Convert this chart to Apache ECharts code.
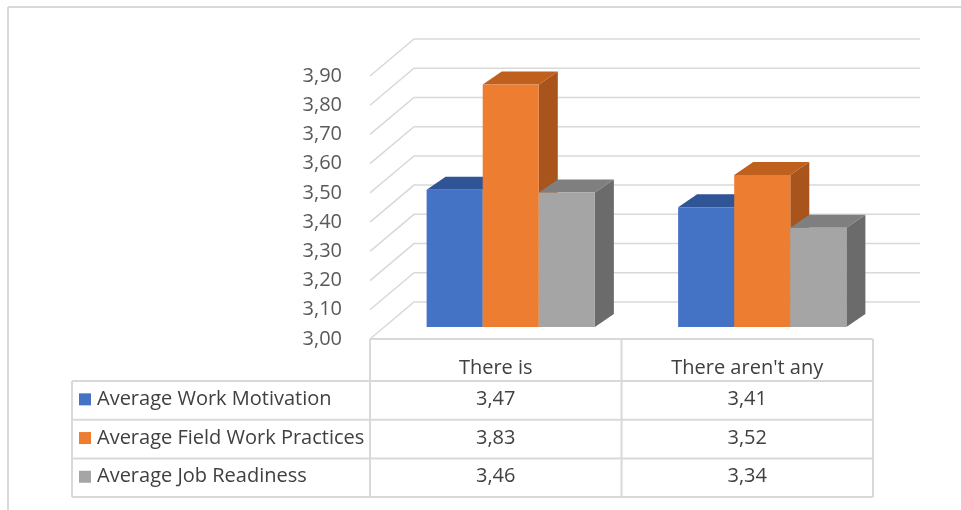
<!DOCTYPE html>
<html>
<head>
<meta charset="utf-8">
<script src="https://cdn.jsdelivr.net/npm/echarts@6/dist/echarts.min.js"></script>
<style>
  html, body { margin: 0; padding: 0; background: #ffffff; }
  #chart { width: 961px; height: 510px; }
</style>
</head>
<body>
<div id="chart"></div>
<script>
// Categories (table columns) and the three averages per category
const categories = ['There is', "There aren't any"];
const seriesNames = ['Average Work Motivation', 'Average Field Work Practices', 'Average Job Readiness'];
const workMotivation = [3.47, 3.41];
const fieldWorkPractices = [3.83, 3.52];
const jobReadiness = [3.46, 3.34];
const yTicks = [3.00, 3.10, 3.20, 3.30, 3.40, 3.50, 3.60, 3.70, 3.80, 3.90];

const seriesValues = [workMotivation, fieldWorkPractices, jobReadiness];
const frontColors = ['#4472C4', '#ED7D31', '#A5A5A5'];
const topColors = ['#2F5597', '#C0601E', '#7F7F7F'];
const sideColors = ['#2A4C8A', '#A9541C', '#6B6B6B'];

const FONT = "'Open Sans', 'Noto Sans', sans-serif";
const TEXT_SIZE = 20;
const fmt = v => v.toFixed(2).replace('.', ',');

// Plot area (front plane of the 3D box)
const GRID = { left: 370, right: 88, top: 76, bottom: 171 };
const WALL_DX = 44, WALL_DY = -37;     // depth of the side wall / floor
const BAR_SHIFT_X = 15, BAR_SHIFT_Y = -12; // bars sit a little behind the front edge
const BAR_DX = 19, BAR_DY = -13;       // bar depth
const BAR_FRAC = 0.223;                // bar width as a share of a category

const chart = echarts.init(document.getElementById('chart'), null, { renderer: 'canvas' });

function wallItem(params, api) {
  const cs = params.coordSys;
  const v = api.value(1);
  const y = api.coord([0, v])[1];
  const x0 = cs.x;
  const x1 = cs.x + cs.width + WALL_DX + 3;
  return {
    type: 'polyline',
    shape: { points: [[x0, y], [x0 + WALL_DX, y + WALL_DY], [x1, y + WALL_DY]] },
    style: { stroke: '#D9D9D9', lineWidth: 1.5, fill: null }
  };
}

function barRenderer(idx) {
  return function (params, api) {
    const cat = api.value(0);
    const v = api.value(1);
    const catW = api.size([1, 0])[0];
    const bw = catW * BAR_FRAC;
    const cx = api.coord([cat, v])[0] + BAR_SHIFT_X + (idx - 1) * bw;
    const x0 = cx - bw / 2, x1 = cx + bw / 2;
    const yt = api.coord([cat, v])[1] + BAR_SHIFT_Y;
    const yb = api.coord([cat, yTicks[0]])[1] + BAR_SHIFT_Y;
    return {
      type: 'group',
      children: [
        { type: 'polygon', shape: { points: [[x1, yt], [x1 + BAR_DX, yt + BAR_DY], [x1 + BAR_DX, yb + BAR_DY], [x1, yb]] },
          style: { fill: sideColors[idx] } },
        { type: 'polygon', shape: { points: [[x0, yt], [x1, yt], [x1 + BAR_DX, yt + BAR_DY], [x0 + BAR_DX, yt + BAR_DY]] },
          style: { fill: topColors[idx] } },
        { type: 'rect', shape: { x: x0, y: yt, width: bw, height: yb - yt },
          style: { fill: frontColors[idx] } }
      ]
    };
  };
}

// Data table under the plot
function buildTable() {
  const els = [];
  const line = (x1, y1, x2, y2) => els.push({ type: 'line', shape: { x1, y1, x2, y2 },
    style: { stroke: '#D9D9D9', lineWidth: 2 }, silent: true });
  const colLeft = GRID.left, colRight = 961 - GRID.right;
  const colW = (colRight - colLeft) / categories.length;
  const tableLeft = 72;
  const headTop = 339, headBottom = 381, rowH = 38.7;
  const tableBottom = headBottom + rowH * seriesNames.length;
  const font = TEXT_SIZE + 'px ' + FONT;

  line(colLeft, headTop, colRight, headTop);
  for (let r = 0; r <= seriesNames.length; r++) {
    const y = headBottom + rowH * r;
    line(tableLeft, y, colRight, y);
  }
  line(tableLeft, headBottom, tableLeft, tableBottom);
  for (let c = 0; c <= categories.length; c++) {
    const x = colLeft + colW * c;
    line(x, headTop, x, tableBottom);
  }
  categories.forEach((name, c) => {
    els.push({ type: 'text', x: colLeft + colW * (c + 0.5), y: 368,
      style: { text: name, font, fill: '#404040', align: 'center', verticalAlign: 'middle' } });
  });
  seriesNames.forEach((name, r) => {
    const yc = headBottom + rowH * (r + 0.5) - 1;
    els.push({ type: 'rect', shape: { x: 79, y: yc - 6, width: 12, height: 12 },
      style: { fill: frontColors[r] } });
    els.push({ type: 'text', x: 97, y: yc,
      style: { text: name, font, fill: '#404040', align: 'left', verticalAlign: 'middle' } });
    seriesValues[r].forEach((v, c) => {
      els.push({ type: 'text', x: colLeft + colW * (c + 0.5), y: yc,
        style: { text: fmt(v), font, fill: '#404040', align: 'center', verticalAlign: 'middle' } });
    });
  });
  // outer frame of the chart area
  els.push({ type: 'line', shape: { x1: 8, y1: 7, x2: 961, y2: 7 }, style: { stroke: '#D9D9D9', lineWidth: 2 } });
  els.push({ type: 'line', shape: { x1: 8, y1: 7, x2: 8, y2: 510 }, style: { stroke: '#D9D9D9', lineWidth: 2 } });
  return els;
}

const option = {
  animation: false,
  backgroundColor: '#ffffff',
  grid: GRID,
  xAxis: {
    type: 'category',
    data: categories,
    axisLine: { show: false },
    axisTick: { show: false },
    axisLabel: { show: false },
    splitLine: { show: false }
  },
  yAxis: {
    type: 'value',
    min: 3.0,
    max: 3.9,
    interval: 0.1,
    axisLine: { show: false },
    axisTick: { show: false },
    splitLine: { show: false },
    axisLabel: {
      formatter: v => fmt(v),
      color: '#595959',
      fontSize: TEXT_SIZE,
      fontFamily: FONT,
      margin: 28
    }
  },
  series: [
    {
      type: 'custom',
      name: 'walls',
      silent: true,
      z: 1,
      clip: false,
      renderItem: wallItem,
      data: yTicks.map(v => [0, v])
    }
  ].concat(seriesValues.map((vals, idx) => ({
    type: 'custom',
    name: seriesNames[idx],
    z: 2,
    clip: false,
    renderItem: barRenderer(idx),
    data: vals.map((v, c) => [c, v])
  }))),
  graphic: buildTable()
};

chart.setOption(option);
</script>
</body>
</html>
